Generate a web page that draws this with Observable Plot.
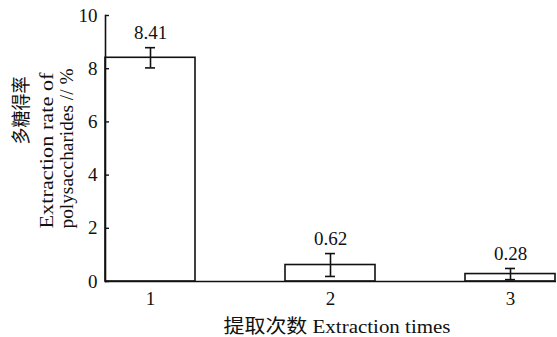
<!DOCTYPE html>
<html>
<head>
<meta charset="utf-8">
<script src="https://cdn.jsdelivr.net/npm/d3@7"></script>
<script src="https://cdn.jsdelivr.net/npm/@observablehq/plot@0.6"></script>
<style>
  html, body { margin: 0; padding: 0; background: #fff; }
  svg { display: block; }
  svg text { font-family: "Liberation Serif", "Noto Sans CJK SC", serif !important; }
</style>
</head>
<body>
<div id="chart"></div>
<script>
const times = ["1", "2", "3"];
const rates = [8.41, 0.62, 0.28];
const errors = [0.38, 0.43, 0.21];
const rateLabels = ["8.41", "0.62", "0.28"];
const yTicks = [0, 2, 4, 6, 8, 10];
const yLabelCN = "多糖得率";
const yLabelEN1 = "Extraction rate of";
const yLabelEN2 = "polysaccharides // %";
const xTitle = "提取次数 Extraction times";

const data = times.map((t, i) => ({t, v: rates[i], e: errors[i], lab: rateLabels[i]}));
const FONT = "Liberation Serif, Noto Sans CJK SC, serif";

const chart = Plot.plot({
  width: 557,
  height: 337,
  marginLeft: 105,
  marginRight: 1,
  marginTop: 15,
  marginBottom: 56,
  style: {fontFamily: FONT, fontSize: "18px", color: "#111", background: "#fff"},
  x: {type: "band", domain: times, paddingInner: 0.5, paddingOuter: 0, align: 0},
  y: {domain: [0, 10]},
  marks: [
    Plot.barY(data, {x: "t", y: "v", fill: "white", stroke: "#111", strokeWidth: 1.6}),
    Plot.ruleX(data, {x: "t", y1: d => d.v - d.e, y2: d => d.v + d.e, stroke: "#111", strokeWidth: 1.6}),
    Plot.tickY(data, {x: "t", y: d => d.v - d.e, stroke: "#111", strokeWidth: 1.6, insetLeft: 40, insetRight: 40}),
    Plot.tickY(data, {x: "t", y: d => d.v + d.e, stroke: "#111", strokeWidth: 1.6, insetLeft: 40, insetRight: 40}),
    Plot.text(data, {x: "t", y: d => d.v + d.e, text: "lab", dy: -15, fontSize: 19, fontFamily: FONT, fill: "#111"}),
    Plot.frame({anchor: "left", stroke: "#111", strokeWidth: 1.6}),
    Plot.ruleY([0], {stroke: "#111", strokeWidth: 1.6}),
    Plot.axisY(yTicks, {tickSize: -4, tickPadding: 12, label: null, fontSize: 19, fontFamily: FONT, stroke: "#111", strokeWidth: 1.4}),
    Plot.axisX({tickSize: 0, tickPadding: 10, label: null, fontSize: 19, fontFamily: FONT}),
    Plot.text([xTitle], {frameAnchor: "bottom", dx: 6, dy: 51, fontSize: 19, fontFamily: FONT, fill: "#111", className: "xtitle"}),
    Plot.text([yLabelCN], {frameAnchor: "left", rotate: -90, dx: -84, dy: -4, fontSize: 19, fontFamily: FONT, fill: "#111", className: "ycn"}),
    Plot.text([yLabelEN1], {frameAnchor: "left", rotate: -90, dx: -59, dy: 80, textAnchor: "start", fontSize: 19, fontFamily: FONT, fill: "#111", className: "yen1"}),
    Plot.text([yLabelEN2], {frameAnchor: "left", rotate: -90, dx: -39, dy: 80, textAnchor: "start", fontSize: 19, fontFamily: FONT, fill: "#111", className: "yen2"})
  ]
});
// stretch text runs to the lengths seen in the reference
const sel = d3.select(chart);
sel.selectAll(".xtitle text").attr("textLength", 227).attr("lengthAdjust", "spacingAndGlyphs");
sel.selectAll(".ycn text").attr("textLength", 68).attr("lengthAdjust", "spacingAndGlyphs");
sel.selectAll(".yen1 text").attr("textLength", 156).attr("lengthAdjust", "spacingAndGlyphs");
sel.selectAll(".yen2 text").attr("textLength", 160).attr("lengthAdjust", "spacingAndGlyphs");
document.getElementById("chart").append(chart);
</script>
</body>
</html>
